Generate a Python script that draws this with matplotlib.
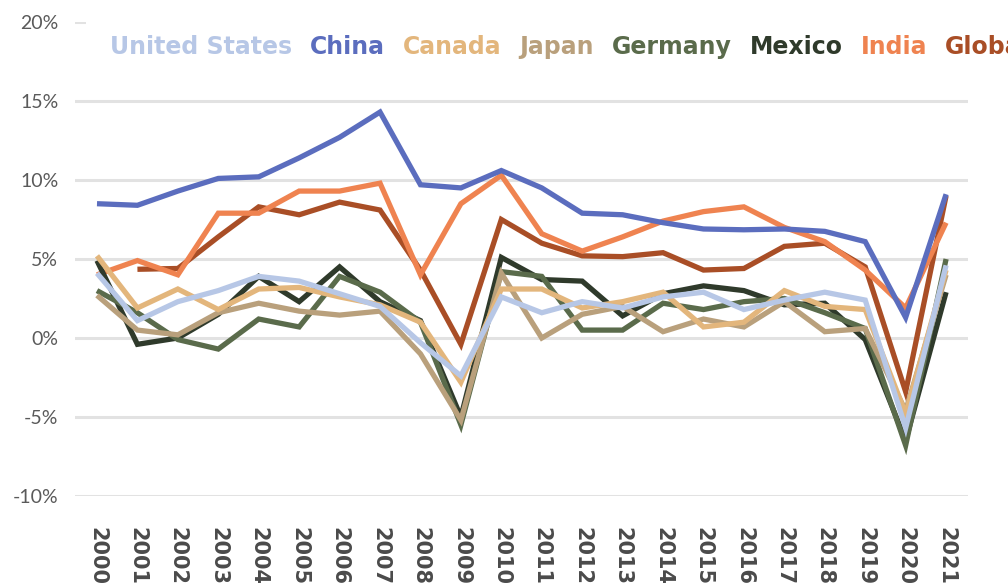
import numpy as np
import matplotlib
matplotlib.use("Agg")
import matplotlib.pyplot as plt

# GDP growth (%)
years = [str(y) for y in range(2000, 2022)]

united_states = [4.1, 1.1, 2.3, 3.0, 3.9, 3.6, 2.8, 2.0, -0.3, -2.4, 2.6, 1.6,
                 2.3, 1.9, 2.6, 2.9, 1.8, 2.4, 2.9, 2.4, -5.7, 4.6]
china = [8.5, 8.4, 9.3, 10.1, 10.2, 11.4, 12.7, 14.3, 9.7, 9.5, 10.6, 9.5,
         7.9, 7.8, 7.3, 6.9, 6.85, 6.9, 6.75, 6.1, 1.3, 9.1]
canada = [5.2, 1.9, 3.1, 1.8, 3.1, 3.2, 2.6, 2.1, 1.0, -2.8, 3.1, 3.1,
          1.9, 2.3, 2.9, 0.7, 1.0, 3.0, 2.0, 1.8, -4.8, 4.3]
japan = [2.7, 0.5, 0.2, 1.6, 2.2, 1.7, 1.45, 1.7, -1.0, -5.2, 4.1, 0.0,
         1.5, 2.0, 0.4, 1.2, 0.7, 2.3, 0.4, 0.6, -4.6, 4.0]
germany = [3.0, 1.6, -0.1, -0.7, 1.2, 0.7, 3.9, 2.9, 1.0, -5.5, 4.2, 3.9,
           0.5, 0.5, 2.2, 1.8, 2.3, 2.5, 1.6, 0.6, -6.8, 5.0]
mexico = [4.9, -0.4, 0.0, 1.5, 3.9, 2.3, 4.5, 2.3, 1.1, -5.0, 5.1, 3.7,
          3.6, 1.4, 2.8, 3.3, 3.0, 2.1, 2.2, -0.1, -6.5, 2.9]
india = [4.0, 4.9, 4.0, 7.9, 7.9, 9.3, 9.3, 9.8, 4.0, 8.5, 10.3, 6.6,
         5.5, 6.4, 7.4, 8.0, 8.3, 7.0, 6.1, 4.3, 1.9, 7.3]
global_ = [np.nan, 4.35, 4.4, 6.4, 8.3, 7.8, 8.6, 8.1, 4.3, -0.4, 7.5, 6.0,
           5.2, 5.15, 5.4, 4.3, 4.4, 5.8, 6.0, 4.5, -3.4, 9.0]

names = ["United States", "China", "Canada", "Japan", "Germany", "Mexico",
         "India", "Global"]
series = [united_states, china, canada, japan, germany, mexico, india, global_]
colors = ["#B7C7E6", "#5B6DBE", "#E3B67C", "#B9A07C", "#5A6B4B", "#2F3A2B",
          "#EF8350", "#A94E26"]

fig = plt.figure(figsize=(10.08, 5.84), dpi=100)
ax = fig.add_axes([0.0744, 0.1507, 0.886, 0.8116])

x = np.arange(len(years))
handles = {}
# draw back to front so United States ends up on top
for name, vals, col in reversed(list(zip(names, series, colors))):
    (ln,) = ax.plot(x, vals, color=col, lw=3.8, solid_joinstyle="miter",
                    solid_capstyle="butt", label=name)
    handles[name] = ln

ax.set_xlim(-0.544, 21.544)
ax.set_ylim(-10, 20)
ax.set_yticks(np.arange(-10, 21, 5))
ax.set_yticklabels([f"{v}%" for v in range(-10, 21, 5)])
ax.set_xticks(x)
ax.set_xticklabels(years, rotation=-90, fontsize=15, fontweight="bold",
                   color="#4A4A4A", va="top")
for lab in ax.get_yticklabels():
    lab.set_fontsize(14)
    lab.set_color("#5A5A5A")
    lab.set_family("Lato")

ax.tick_params(axis="y", length=0, pad=12)
ax.tick_params(axis="x", length=0, pad=22)
ax.grid(axis="y", color="#E2E2E2", lw=2.2)
ax.set_axisbelow(True)
for s in ax.spines.values():
    s.set_visible(False)

leg = ax.legend([handles[n] for n in names], names, ncol=8,
                loc="center left", bbox_to_anchor=(0.0128, 0.947),
                borderaxespad=0, borderpad=1.0, handlelength=0,
                handletextpad=0, columnspacing=0.76, frameon=True,
                facecolor="white", edgecolor="none", framealpha=1,
                prop={"weight": "bold", "size": 17})
for txt, col in zip(leg.get_texts(), colors):
    txt.set_color(col)
for h in leg.legend_handles:
    h.set_visible(False)

fig.savefig("out.png", dpi=100)
